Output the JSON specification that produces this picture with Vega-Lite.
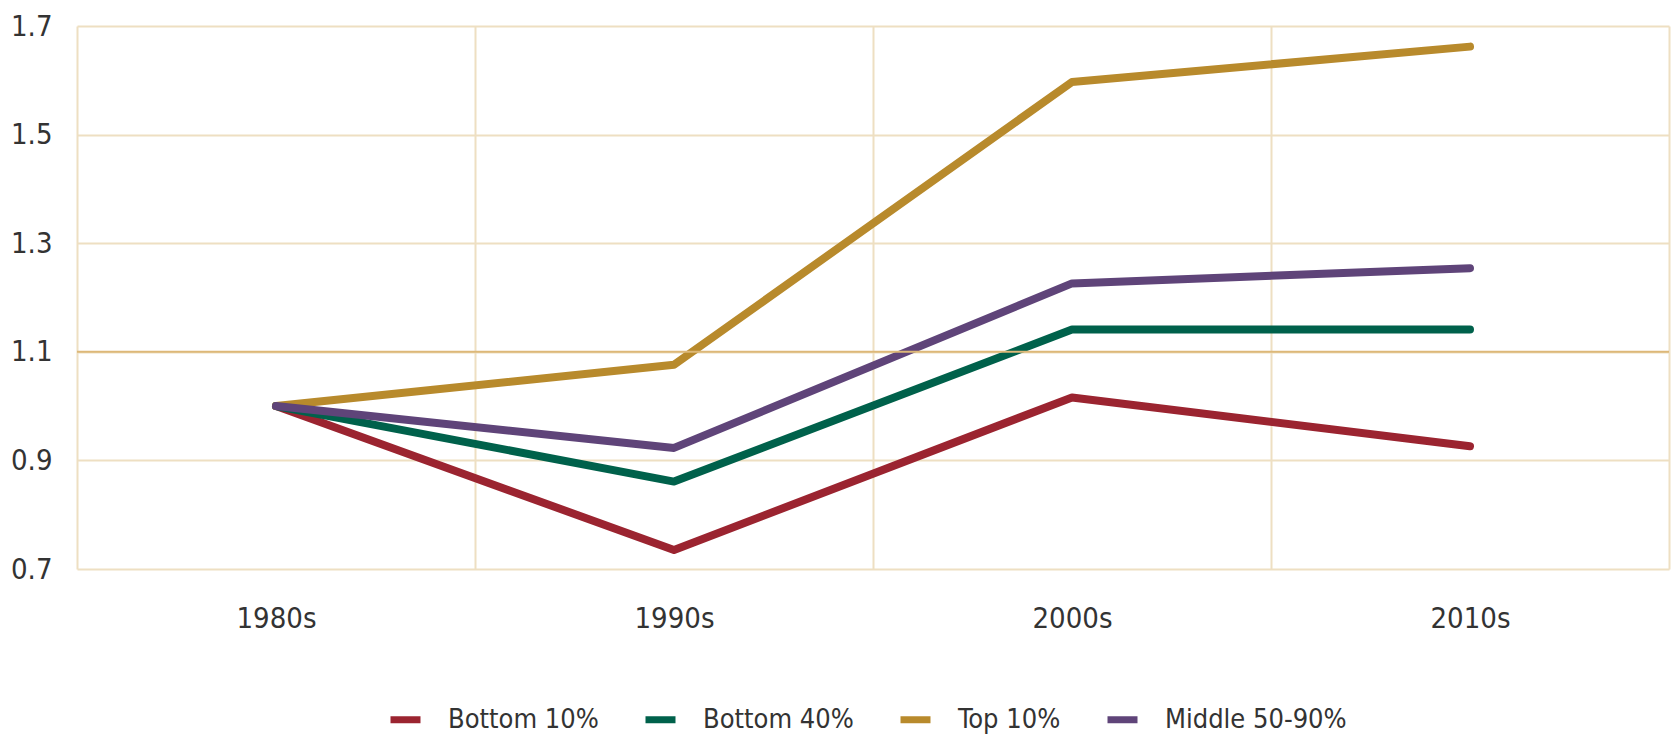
{
  "$schema": "https://vega.github.io/schema/vega-lite/v6.json",
  "width": 1592,
  "height": 543,
  "autosize": {"type": "none"},
  "padding": {"left": 77, "top": 26, "right": 3, "bottom": 167},
  "background": "white",
  "config": {
    "view": {"stroke": null},
    "font": "DejaVu Sans Condensed, DejaVu Sans, sans-serif",
    "axis": {"labelFont": "DejaVu Sans Condensed, DejaVu Sans, sans-serif", "labelColor": "#333333"},
    "legend": {"labelFont": "DejaVu Sans Condensed, DejaVu Sans, sans-serif", "labelColor": "#333333"}
  },
  "datasets": {
    "series": [
      {"decade": "1980s", "group": "Bottom 10%", "value": 1.0},
      {"decade": "1990s", "group": "Bottom 10%", "value": 0.735},
      {"decade": "2000s", "group": "Bottom 10%", "value": 1.016},
      {"decade": "2010s", "group": "Bottom 10%", "value": 0.926},
      {"decade": "1980s", "group": "Bottom 40%", "value": 1.0},
      {"decade": "1990s", "group": "Bottom 40%", "value": 0.861},
      {"decade": "2000s", "group": "Bottom 40%", "value": 1.141},
      {"decade": "2010s", "group": "Bottom 40%", "value": 1.141},
      {"decade": "1980s", "group": "Top 10%", "value": 1.0},
      {"decade": "1990s", "group": "Top 10%", "value": 1.076},
      {"decade": "2000s", "group": "Top 10%", "value": 1.597},
      {"decade": "2010s", "group": "Top 10%", "value": 1.662},
      {"decade": "1980s", "group": "Middle 50-90%", "value": 1.0},
      {"decade": "1990s", "group": "Middle 50-90%", "value": 0.923},
      {"decade": "2000s", "group": "Middle 50-90%", "value": 1.226},
      {"decade": "2010s", "group": "Middle 50-90%", "value": 1.254}
    ],
    "refline": [{"level": 1.1}]
  },
  "layer": [
    {
      "data": {"name": "series"},
      "mark": {"type": "line", "strokeWidth": 8, "strokeCap": "round", "strokeJoin": "round"},
      "encoding": {
        "x": {
          "field": "decade", "type": "ordinal", "bandPosition": 0.5,
          "scale": {"type": "band", "paddingInner": 0, "paddingOuter": 0},
          "axis": {
            "title": null, "labelAngle": 0, "domain": false, "ticks": false,
            "tickBand": "extent", "grid": true, "gridColor": "#EEDFC2", "gridWidth": 2,
            "labelPadding": 35, "labelFontSize": 29
          }
        },
        "y": {
          "field": "value", "type": "quantitative",
          "scale": {"domain": [0.7, 1.7], "nice": false, "zero": false},
          "axis": {
            "title": null, "values": [0.7, 0.9, 1.1, 1.3, 1.5, 1.7], "format": ".1f",
            "domain": false, "ticks": false, "labelPadding": 25, "labelFontSize": 29,
            "gridColor": "#EEDFC2", "gridWidth": 2
          }
        },
        "color": {
          "field": "group", "type": "nominal",
          "scale": {
            "domain": ["Bottom 10%", "Bottom 40%", "Top 10%", "Middle 50-90%"],
            "range": ["#9B2430", "#00614B", "#B88A2C", "#5F4479"]
          },
          "legend": {
            "orient": "none", "legendX": 310, "legendY": 675, "title": null, "direction": "horizontal",
            "symbolType": "stroke", "symbolSize": 900, "symbolStrokeWidth": 7,
            "labelFontSize": 27, "labelOffset": 24, "columnPadding": 32, "labelLimit": 400
          }
        }
      }
    },
    {
      "data": {"name": "refline"},
      "mark": {"type": "rule", "color": "#DDB878", "strokeWidth": 2},
      "encoding": {"y": {"field": "level", "type": "quantitative"}}
    }
  ]
}
